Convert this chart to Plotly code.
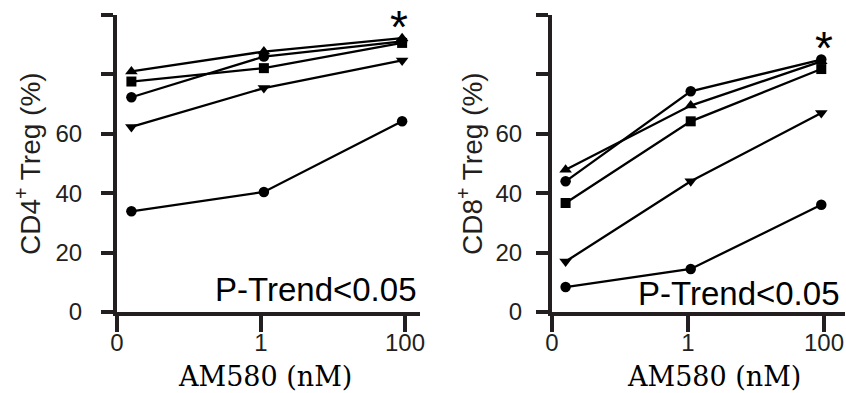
import plotly.graph_objects as go

# ---- data ----
dose_labels = ["0", "1", "100"]
series_symbols = ["triangle-up", "square", "circle", "triangle-down", "circle"]

cd4_values = [
    [81.0, 87.7, 92.2],
    [77.6, 82.1, 90.6],
    [72.3, 86.0, 91.1],
    [62.3, 75.4, 84.7],
    [33.9, 40.4, 64.2],
]
cd8_values = [
    [47.9, 69.5, 84.4],
    [36.7, 64.2, 81.8],
    [44.0, 74.3, 85.0],
    [17.0, 44.0, 67.0],
    [8.4, 14.5, 36.1],
]
y_tickvals = [0, 20, 40, 60, 80, 100]
y_ticktext = ["0", "20", "40", "60", "", ""]

# ---- styling ----
W, H = 846, 393
INK = "#231f20"
SANS = "Liberation Sans, Arial, sans-serif"
SERIF = "DejaVu Serif, serif"
x_shift = [0.1, 0.02, -0.02]
xpos = [i + s for i, s in enumerate(x_shift)]
marker_size = {"triangle-up": 11, "triangle-down": 11, "square": 10, "circle": 10.5}

fig = go.Figure()
for panel, vals in ((1, cd4_values), (2, cd8_values)):
    xa = "x" if panel == 1 else "x2"
    ya = "y" if panel == 1 else "y2"
    for sym, v in zip(series_symbols, vals):
        fig.add_trace(go.Scatter(
            x=xpos, y=v, xaxis=xa, yaxis=ya, mode="lines+markers",
            line=dict(color="black", width=2.3),
            marker=dict(symbol=sym, size=marker_size[sym], color="black"),
            showlegend=False, hoverinfo="skip"))

ydom = [(H - 312) / H, (H - 15) / H]
axis_common = dict(showline=True, linecolor=INK, linewidth=4, ticks="outside",
                   tickcolor=INK, tickwidth=4, showgrid=False, zeroline=False,
                   automargin=False,
                   tickfont=dict(family=SANS, size=24, color=INK))

fig.update_layout(
    template="none",
    width=W, height=H, margin=dict(l=0, r=0, t=0, b=0, autoexpand=False),
    paper_bgcolor="white", plot_bgcolor="white",
    xaxis=dict(domain=[117 / W, 420 / W], range=[0, 303 / 144], anchor="y",
               tickvals=[0, 1, 2], ticktext=dose_labels, ticklen=16,
               ticklabelstandoff=-10, **axis_common),
    yaxis=dict(domain=ydom, range=[0, 100], anchor="x", tickvals=y_tickvals,
               ticktext=y_ticktext, ticklen=12, ticklabelstandoff=14, **axis_common),
    xaxis2=dict(domain=[552 / W, 845 / W], range=[0, 293 / 136], anchor="y2",
                tickvals=[0, 1, 2], ticktext=dose_labels, ticklen=16,
                ticklabelstandoff=-10, **axis_common),
    yaxis2=dict(domain=ydom, range=[0, 100], anchor="x2", tickvals=y_tickvals,
                ticktext=y_ticktext, ticklen=12, ticklabelstandoff=9, **axis_common),
)

ann = []
# y titles
for cx, lab in ((28, "CD4<sup>+</sup> Treg (%)"), (470, "CD8<sup>+</sup> Treg (%)")):
    ann.append(dict(text=lab, xref="paper", yref="paper",
                    x=cx / W, y=(H - 164) / H, xanchor="center", yanchor="middle",
                    textangle=-90, showarrow=False,
                    font=dict(family=SANS, size=28, color=INK)))
# x titles
for cx in (265, 714):
    ann.append(dict(text="AM580 (nM)", xref="paper", yref="paper",
                    x=cx / W, y=(H - 376) / H, xanchor="center", yanchor="middle",
                    showarrow=False,
                    font=dict(family=SERIF, size=27, color="black")))
# P-trend
for rx, cy in ((418, 289), (841, 293)):
    ann.append(dict(text="P-Trend<0.05", xref="paper", yref="paper",
                    x=rx / W, y=(H - cy) / H, xanchor="right", yanchor="middle",
                    showarrow=False, font=dict(family=SANS, size=33, color="black")))
# asterisks
ann.append(dict(text="*", xref="x", yref="y", x=xpos[2] - 0.02, y=96, showarrow=False,
                xanchor="center", yanchor="middle",
                font=dict(family=SANS, size=46, color="black")))
ann.append(dict(text="*", xref="x2", yref="y2", x=xpos[2] + 0.02, y=89, showarrow=False,
                xanchor="center", yanchor="middle",
                font=dict(family=SANS, size=46, color="black")))
fig.update_layout(annotations=ann)

fig.write_html("out.html", config={"displayModeBar": False},
               post_script="document.body.style.margin='0';")
